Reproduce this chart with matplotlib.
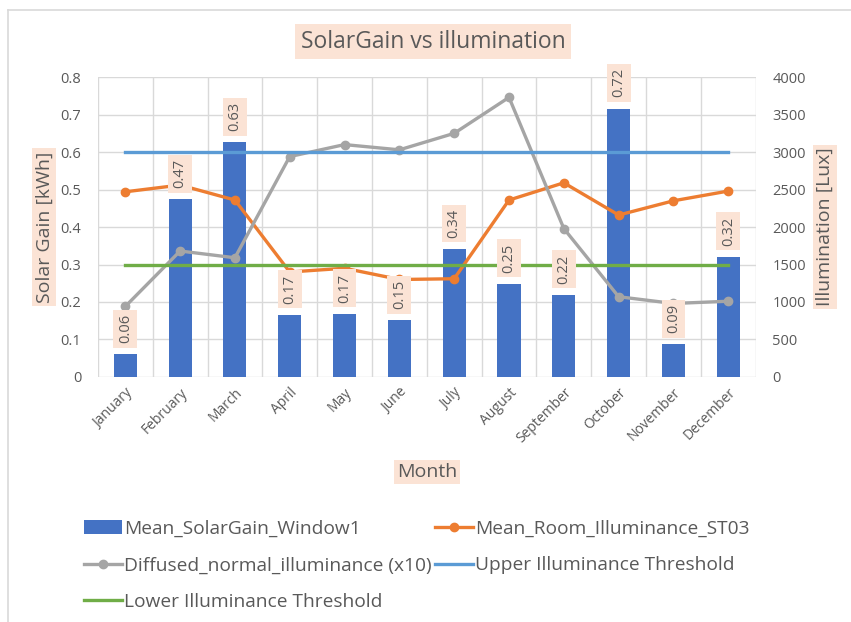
import matplotlib.pyplot as plt
import numpy as np
from matplotlib.lines import Line2D

plt.rcParams["font.family"] = ["Open Sans", "DejaVu Sans"]

months = ["January", "February", "March", "April", "May", "June",
          "July", "August", "September", "October", "November", "December"]
solar_gain = [0.06, 0.474, 0.626, 0.166, 0.168, 0.151,
              0.341, 0.248, 0.219, 0.716, 0.087, 0.321]
room_illum = [2470, 2560, 2360, 1400, 1450, 1300,
              1310, 2360, 2590, 2160, 2350, 2480]
diffused_illum = [940, 1680, 1590, 2940, 3100, 3030,
                  3250, 3730, 1980, 1070, 980, 1010]
upper_threshold = [3000] * 12
lower_threshold = [1500] * 12

TEXT = "#595959"
PEACH = "#FBE3D5"
GRID = "#D9D9D9"

fig = plt.figure(figsize=(8.51, 6.22), dpi=100)
ax1 = fig.add_axes([0.115, 0.394, 0.773, 0.482])
ax2 = ax1.twinx()

x = np.arange(len(months))
bars = ax1.bar(x, solar_gain, width=0.42, color="#4472C4", zorder=2,
               label="Mean_SolarGain_Window1")
ax1.set_ylim(0, 0.8)
ax1.set_yticks(np.arange(0, 0.81, 0.1))
ax1.set_yticklabels(["0"] + [f"{v:.1f}" for v in np.arange(0.1, 0.81, 0.1)])
ax1.set_xlim(-0.5, 11.5)
ax1.set_xticks(x)
ax1.set_xticklabels(months, rotation=45, ha="right", rotation_mode="anchor")
ax1.set_xticks(np.arange(-0.5, 12, 1), minor=True)
ax1.grid(axis="y", color=GRID, lw=1, zorder=0)
ax1.grid(axis="x", which="minor", color=GRID, lw=1, zorder=0)
ax1.tick_params(axis="x", which="both", length=0, colors=TEXT, labelsize=10, pad=6)
ax1.tick_params(axis="y", length=0, colors=TEXT, labelsize=10.5, pad=12)
ax1.set_axisbelow(True)

l_room, = ax2.plot(x, room_illum, color="#ED7D31", lw=2.4, marker="o", ms=6,
                   label="Mean_Room_Illuminance_ST03", zorder=3)
l_diff, = ax2.plot(x, diffused_illum, color="#A5A5A5", lw=2.4, marker="o", ms=6,
                   label="Diffused_normal_illuminance (x10)", zorder=3)
l_up, = ax2.plot(x, upper_threshold, color="#5B9BD5", lw=2.4,
                 label="Upper Illuminance Threshold", zorder=3)
l_low, = ax2.plot(x, lower_threshold, color="#70AD47", lw=2.4,
                  label="Lower Illuminance Threshold", zorder=3)
ax2.set_ylim(0, 4000)
ax2.set_yticks(np.arange(0, 4001, 500))
ax2.tick_params(axis="y", length=0, colors=TEXT, labelsize=10.5, pad=12)

for ax in (ax1, ax2):
    for s in ax.spines.values():
        s.set_visible(False)

# data labels above the bars, drawn on top of the lines
for i, v in enumerate(solar_gain):
    ax2.annotate(f"{v:.2f}", xy=(i, v), xycoords=ax1.transData,
                 xytext=(0, 8), textcoords="offset points",
                 rotation=90, ha="center", va="bottom", fontsize=10.5, color=TEXT,
                 bbox=dict(boxstyle="square,pad=0.3", fc=PEACH, ec="none"), zorder=5)

label_box = dict(boxstyle="square,pad=0.15", fc=PEACH, ec="none")
ax1.set_ylabel("Solar Gain [kWh]", fontsize=14, color=TEXT, bbox=label_box, labelpad=5)
ax2.set_ylabel("Illumination [Lux]", fontsize=14, color=TEXT, bbox=label_box,
               rotation=90, labelpad=7)
fig.text(0.502, 0.241, "Month", fontsize=14, color=TEXT, ha="center", va="center",
         bbox=label_box)
fig.text(0.509, 0.933, "SolarGain vs illumination", fontsize=16.5, color=TEXT,
         ha="center", va="center", bbox=dict(boxstyle="square,pad=0.25", fc=PEACH, ec="none"))

# legend filled row by row like the original
handles = [bars, l_diff, l_low, l_room, l_up]
fig.legend(handles=handles, labels=[h.get_label() for h in handles], ncol=2,
           loc="upper left", bbox_to_anchor=(0.09, 0.177), frameon=False,
           fontsize=13.8, labelcolor=TEXT, handlelength=1.95, handletextpad=0.12,
           columnspacing=0.2, labelspacing=0.98, borderaxespad=0)

# chart area border
fig.add_artist(Line2D([0.009, 0.009], [0, 0.984], color=GRID, lw=1.2))
fig.add_artist(Line2D([0.009, 1], [0.984, 0.984], color=GRID, lw=1.2))

fig.savefig("out.png", dpi=100)
